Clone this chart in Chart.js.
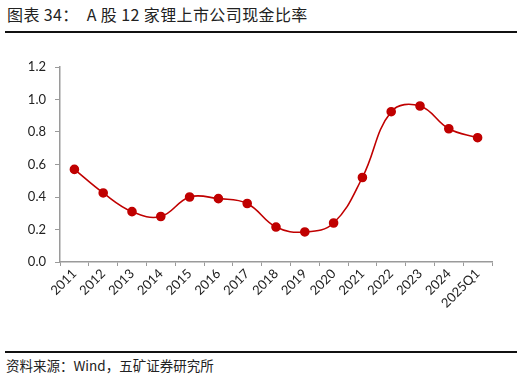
<!DOCTYPE html>
<html>
<head>
<meta charset="utf-8">
<script src="https://cdn.jsdelivr.net/npm/chart.js@4"></script>
<style>
  html, body { margin: 0; padding: 0; background: #fff; }
  body { width: 522px; height: 378px; position: relative; overflow: hidden;
         font-family: "Noto Sans CJK SC", "Noto Sans", sans-serif; }
  .title { position: absolute; left: 7px; top: 2px; font-size: 16px; color: #222; white-space: pre; letter-spacing: 0.4px; }
  .rule { position: absolute; left: 5px; width: 512px; height: 2px; background: #111; }
  .source { position: absolute; left: 6px; top: 355px; font-size: 13.5px; color: #222; white-space: pre; }
  #wrap { position: absolute; left: 0; top: 40px; width: 522px; height: 300px; }
</style>
</head>
<body>
<div class="title">图表 34：  A 股 12 家锂上市公司现金比率</div>
<div class="rule" style="top:31px"></div>
<div id="wrap"><canvas id="chart"></canvas></div>
<div class="rule" style="top:351px"></div>
<div class="source">资料来源：Wind，五矿证券研究所</div>
<script>
// 年份
const categories = ['2011', '2012', '2013', '2014', '2015', '2016', '2017', '2018',
                    '2019', '2020', '2021', '2022', '2023', '2024', '2025Q1'];
// 现金比率
const cashRatio = [0.57, 0.425, 0.31, 0.28, 0.40, 0.39, 0.36, 0.215,
                   0.185, 0.24, 0.52, 0.925, 0.96, 0.82, 0.765];
const yTicks = [0, 0.2, 0.4, 0.6, 0.8, 1.0, 1.2];

document.addEventListener('DOMContentLoaded', () => {
    const ctx = document.getElementById('chart').getContext('2d');
    const axisColor = '#9a9a9a';
    const labelFont = { family: 'Lato, "DejaVu Sans", sans-serif', size: 13 };

    new Chart(ctx, {
        type: 'line',
        data: {
            labels: categories,
            datasets: [{
                label: '现金比率',
                data: cashRatio,
                borderColor: '#C00000',
                backgroundColor: '#C00000',
                borderWidth: 1.6,
                pointRadius: 4,
                pointHoverRadius: 4,
                tension: 0.4,
                fill: false
            }]
        },
        options: {
            responsive: true,
            maintainAspectRatio: false,
            animation: false,
            layout: { padding: { top: 27, right: 30, left: 0, bottom: 0 } },
            plugins: { legend: { display: false }, tooltip: { enabled: false } },
            scales: {
                x: {
                    offset: true,
                    grid: { display: true, drawOnChartArea: false, offset: true,
                            color: axisColor, tickLength: 4 },
                    border: { color: axisColor, width: 1.5 },
                    ticks: { color: '#222', font: labelFont, minRotation: 45, maxRotation: 45,
                             autoSkip: false, padding: 0 },
                    afterFit: (scale) => { scale.height = 78; }
                },
                y: {
                    min: 0,
                    max: 1.2,
                    afterBuildTicks: (scale) => { scale.ticks = yTicks.map(v => ({ value: v })); },
                    grid: { display: true, drawOnChartArea: false, color: axisColor, tickLength: 5 },
                    border: { color: axisColor, width: 1.5 },
                    ticks: { color: '#222', font: labelFont, padding: 9,
                             callback: (v) => Number(v).toFixed(1) },
                    afterFit: (scale) => { scale.width = 60; }
                }
            }
        }
    });
});
</script>
</body>
</html>
